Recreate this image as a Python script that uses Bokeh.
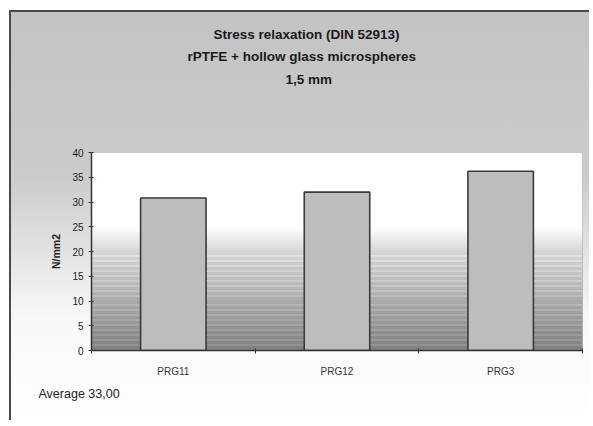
import numpy as np
from bokeh.plotting import figure
from bokeh.models import (ColumnDataSource, FixedTicker, Title, Range1d)
from bokeh.embed import file_html
from bokeh.resources import INLINE

# ---- data ----
categories = ["PRG11", "PRG12", "PRG3"]
values = [30.8, 32.0, 36.2]
y_ticks = [0, 5, 10, 15, 20, 25, 30, 35, 40]
title_lines = ["Stress relaxation (DIN 52913)",
               "rPTFE +  hollow glass microspheres",
               "1,5 mm"]
y_label = "N/mm2"
average_text = "Average 33,00"

# layout styling (pixel offsets of the title lines from the frame's left edge)
title_offsets = [122, 96, 194]
title_standoffs = [5, 5, 7]

W, H = 580, 410
p = figure(width=W, height=H, output_backend="svg", toolbar_location=None,
           x_range=Range1d(0, len(categories)), y_range=Range1d(0, 40),
           min_border_left=80, min_border_right=9, min_border_top=140,
           min_border_bottom=72)
p.border_fill_color = None
p.background_fill_color = None
p.styles = {"background": "linear-gradient(to bottom, #c3c3c3 0%, #cbcbcb 40%, #e2e2e2 58%, #f8f8f8 75%, #ffffff 100%)",
            "border-left": "2px solid #4a4a4a", "border-top": "2px solid #4a4a4a",
            "margin-left": "9px", "margin-top": "10px"}
p.outline_line_color = "#b5b5b5"
p.grid.visible = False

# plot area gradient background (decorative)
rows = 200
img = np.zeros((rows, 1), dtype=np.uint32)
view = img.view(dtype=np.uint8).reshape((rows, 1, 4))
for r in range(rows):
    t = r / (rows - 1)
    if t >= 0.62:
        g = 255
    elif t >= 0.5:
        g = 215 + (t - 0.5) / 0.12 * 40
    else:
        g = 128 + t / 0.5 * 87
        if r % 5 == 0:
            g = min(255, g + 30)
    g = int(g)
    view[r, 0, :] = [g, g, g, 255]
p.image_rgba(image=[img], x=0, y=0, dw=len(categories), dh=40)

xs = [i + 0.5 for i in range(len(categories))]
src = ColumnDataSource(dict(x=xs, top=values, cat=categories))
p.vbar(x="x", top="top", bottom=0, width=0.4, source=src,
       fill_color="#bdbdbd", line_color="#3a3a3a", line_width=1.6)

# axes
yax = p.yaxis[0]
yax.ticker = FixedTicker(ticks=y_ticks)
yax.axis_line_color = "#333333"
yax.axis_line_width = 1.5
yax.major_tick_in = 2
yax.major_tick_out = 3
yax.major_tick_line_color = "#333333"
yax.minor_tick_line_color = None
yax.major_label_text_font = "Liberation Sans"
yax.major_label_text_font_size = "10px"
yax.major_label_text_color = "#222222"
yax.axis_label = y_label
yax.axis_label_text_font = "Liberation Sans"
yax.axis_label_text_font_size = "10.5px"
yax.axis_label_text_font_style = "bold"
yax.axis_label_text_color = "#222222"
yax.axis_label_standoff = 7

xax = p.xaxis[0]
xax.ticker = FixedTicker(ticks=xs, minor_ticks=list(range(len(categories) + 1)))
xax.major_label_overrides = {x: c for x, c in zip(xs, categories)}
xax.major_tick_line_color = None
xax.minor_tick_line_color = "#333333"
xax.minor_tick_in = 2
xax.minor_tick_out = 3
xax.axis_line_color = "#333333"
xax.axis_line_width = 1.5
xax.major_label_text_font = "Liberation Sans"
xax.major_label_text_font_size = "10px"
xax.major_label_text_color = "#333333"
xax.major_label_standoff = 9

# spacer between frame and title block
p.add_layout(Title(text="\u00a0", text_font_size="12px", text_color="#d4d4d4",
                   standoff=46), "above")
# titles: added from the line nearest the frame outward
for line, off, so in reversed(list(zip(title_lines, title_offsets, title_standoffs))):
    p.add_layout(Title(text=line, align="left", offset=off,
                       text_font="Liberation Sans", text_font_style="bold",
                       text_font_size="13.5px", text_color="#1a1a1a",
                       standoff=so), "above")

p.add_layout(Title(text=average_text, align="left", offset=-53,
                   text_font="Liberation Sans", text_font_style="normal",
                   text_font_size="12.5px", text_color="#222222"), "below")

open("out.html", "w").write(file_html(p, INLINE))
